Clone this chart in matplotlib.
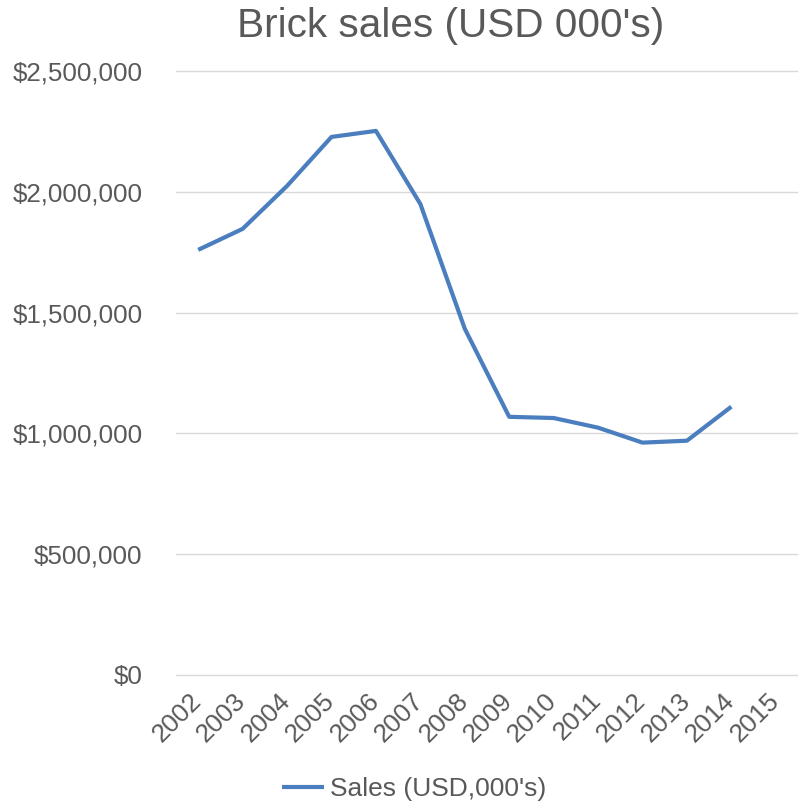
import matplotlib
matplotlib.use("Agg")
import matplotlib.pyplot as plt
from matplotlib.ticker import FuncFormatter
from matplotlib.transforms import ScaledTranslation

years = ["2002", "2003", "2004", "2005", "2006", "2007", "2008",
         "2009", "2010", "2011", "2012", "2013", "2014", "2015"]
sales = [1760000, 1847000, 2025000, 2228000, 2253000, 1950000, 1433000,
         1068000, 1063000, 1023000, 961000, 969000, 1110000, None]
y_ticks = [0, 500000, 1000000, 1500000, 2000000, 2500000]

title = "Brick sales (USD 000's)"
series_name = "Sales (USD,000's)"

plt.rcParams['font.family'] = ['Liberation Sans', 'DejaVu Sans']
text_color = "#595959"
line_color = "#4A7EBF"
grid_color = "#D9D9D9"

W, H = 798, 807
fig = plt.figure(figsize=(W / 100, H / 100), dpi=100)
ax = fig.add_axes([176 / W, 1 - 674.5 / H, (798 - 176) / W, (674.5 - 71.3) / H])

xs = list(range(len(years)))
px = [x for x, v in zip(xs, sales) if v is not None]
py = [v for v in sales if v is not None]
line, = ax.plot(px, py, color=line_color, linewidth=3, solid_joinstyle='round',
                solid_capstyle='butt', label=series_name)

ax.set_xlim(-0.5, len(years) - 0.5)
ax.set_ylim(0, 2500000)
ax.set_yticks(y_ticks)
ax.yaxis.set_major_formatter(FuncFormatter(lambda v, p: "${:,.0f}".format(v)))
ax.set_xticks(xs)
ax.set_xticklabels(years, rotation=45, ha='right')

ax.grid(axis='y', color=grid_color, linewidth=1.0)
for gl in ax.get_ygridlines():
    gl.set_clip_on(False)
ax.set_axisbelow(True)
for s in ax.spines.values():
    s.set_visible(False)
ax.tick_params(axis='both', length=0, colors=text_color, labelsize=18.7)
ax.tick_params(axis='y', pad=24)
ax.tick_params(axis='x', pad=10)

offset = ScaledTranslation(8 / 100, 0, fig.dpi_scale_trans)
for lbl in ax.get_xticklabels():
    lbl.set_transform(lbl.get_transform() + offset)

fig.text(451 / W, 1 - 37.3 / H, title, ha='center', va='baseline',
         fontsize=29.2, color=text_color)

leg = fig.legend(handles=[line], loc='center', bbox_to_anchor=(414 / W, 1 - 789 / H),
                 frameon=False, fontsize=19, handlelength=1.6, handletextpad=0.2,
                 labelcolor=text_color)

fig.savefig("out.png", dpi=100, facecolor='white')
